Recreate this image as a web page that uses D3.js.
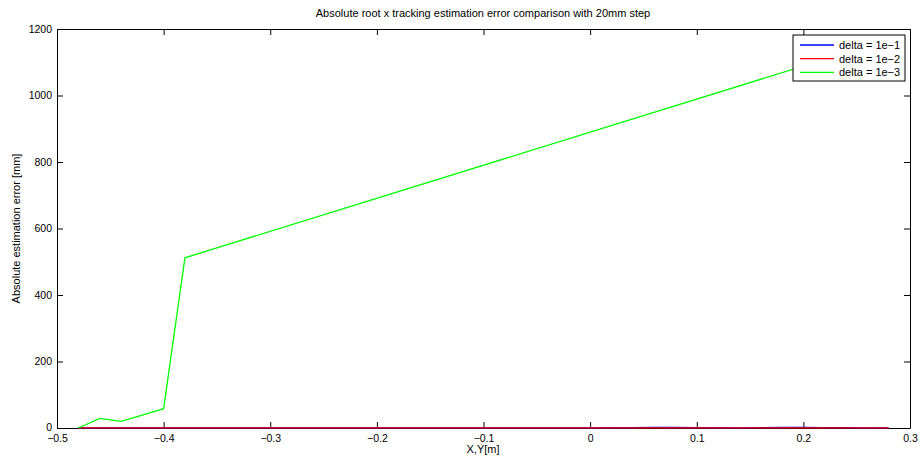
<!DOCTYPE html>
<html><head><meta charset="utf-8">
<script src="https://cdn.jsdelivr.net/npm/d3@7"></script>
<style>body{margin:0;background:#fff}svg{display:block}text{font-family:"Liberation Sans",Arial,sans-serif}</style>
</head><body><svg id="c" width="921" height="459"></svg>
<script>
const xSteps = [-0.48,-0.46,-0.44,-0.42,-0.40,-0.38,-0.36,-0.34,-0.32,-0.30,-0.28,-0.26,-0.24,-0.22,-0.20,-0.18,-0.16,-0.14,-0.12,-0.10,-0.08,-0.06,-0.04,-0.02,0.00,0.02,0.04,0.06,0.08,0.10,0.12,0.14,0.16,0.18,0.20,0.22,0.24,0.26,0.28];
const blueVals = [0.3,0.3,0.4,0.4,0.3,0.4,0.4,0.3,0.5,0.5,0.4,0.3,0.5,0.6,0.4,0.3,0.5,0.4,0.3,0.4,0.5,0.3,0.4,0.5,0.6,0.8,1.3,1.6,1.5,1.2,0.7,0.6,1.1,1.5,1.6,1.4,1.0,0.5,0.4];
const redVals = [0.3,0.3,0.4,0.3,0.3,0.4,0.3,0.3,0.4,0.3,0.4,0.3,0.3,0.4,0.3,0.3,0.4,0.3,0.3,0.4,0.3,0.3,0.4,0.3,0.3,0.4,0.5,0.4,0.5,0.6,0.4,0.3,0.4,0.5,0.4,0.3,0.4,0.3,0.3];
const greenX = [-0.48,-0.46,-0.44,-0.42,-0.40,-0.38,0.28];
const greenVals = [0,29,20,39,58,512,1168];
const xTicks = [-0.5,-0.4,-0.3,-0.2,-0.1,0,0.1,0.2,0.3];
const yTicks = [0,200,400,600,800,1000,1200];
const seriesNames = ["delta = 1e\u22121","delta = 1e\u22122","delta = 1e\u22123"];
const seriesColors = ["#0000ff","#ff0000","#00ff00"];

const svg = d3.select("#c");
const L=57,R=910,T=29,B=428;
const x = d3.scaleLinear().domain([-0.5,0.3]).range([L,R]);
const y = d3.scaleLinear().domain([0,1200]).range([B,T]);
const fmtX = v => (v<0?"\u2212":"")+Math.abs(v).toString();

svg.append("rect").attr("x",L).attr("y",T).attr("width",R-L).attr("height",B-T).attr("fill","#fff");

// axes
const tl=6;
const gB = svg.append("g").attr("transform",`translate(0,${B})`).call(d3.axisBottom(x).tickValues(xTicks).tickSizeInner(-tl).tickSizeOuter(0).tickPadding(6).tickFormat(fmtX));
const gT = svg.append("g").attr("transform",`translate(0,${T})`).call(d3.axisTop(x).tickValues(xTicks).tickSizeInner(-tl).tickSizeOuter(0).tickFormat(""));
const gL = svg.append("g").attr("transform",`translate(${L},0)`).call(d3.axisLeft(y).tickValues(yTicks).tickSizeInner(-tl).tickSizeOuter(0).tickPadding(5).tickFormat(d3.format("d")));
const gR = svg.append("g").attr("transform",`translate(${R},0)`).call(d3.axisRight(y).tickValues(yTicks).tickSizeInner(-tl).tickSizeOuter(0).tickFormat(""));
[gB,gT,gL,gR].forEach(g=>{
  g.selectAll("path.domain").attr("stroke","#000").attr("stroke-width",1);
  g.selectAll(".tick line").attr("stroke","#000");
  g.selectAll("text").attr("font-size",10.5).attr("fill","#000").style("font-family","Liberation Sans, Arial, sans-serif");
});
gB.selectAll(".tick text").attr("y",14).attr("dy","0");
gL.selectAll(".tick text").filter(d=>d===0).attr("dy","0.25em");

const line = d3.line().x(d=>x(d[0])).y(d=>y(d[1]));
const series = [
  xSteps.map((v,i)=>[v,blueVals[i]]),
  xSteps.map((v,i)=>[v,redVals[i]]),
  greenX.map((v,i)=>[v,greenVals[i]])
];
series.forEach((s,i)=>{
  svg.append("path").attr("d",line(s)).attr("fill","none").attr("stroke",seriesColors[i]).attr("stroke-width",1.3);
});

svg.append("text").attr("x",483).attr("y",17).attr("text-anchor","middle").attr("font-size",11).text("Absolute root x tracking estimation error comparison with 20mm step");
svg.append("text").attr("x",483).attr("y",453).attr("text-anchor","middle").attr("font-size",11).text("X,Y[m]");
svg.append("text").attr("transform",`translate(20,${(T+B)/2}) rotate(-90)`).attr("text-anchor","middle").attr("font-size",11).text("Absolute estimation error [mm]");

// legend
const lg = svg.append("g");
lg.append("rect").attr("x",793).attr("y",35).attr("width",112).attr("height",46).attr("fill","#fff").attr("stroke","#000").attr("stroke-width",1);
seriesNames.forEach((n,i)=>{
  const yy = 45+i*13.7;
  lg.append("line").attr("x1",800).attr("x2",834).attr("y1",yy).attr("y2",yy).attr("stroke",seriesColors[i]).attr("stroke-width",1.3);
  lg.append("text").attr("x",839).attr("y",yy+4).attr("font-size",11).text(n);
});
</script></body></html>
